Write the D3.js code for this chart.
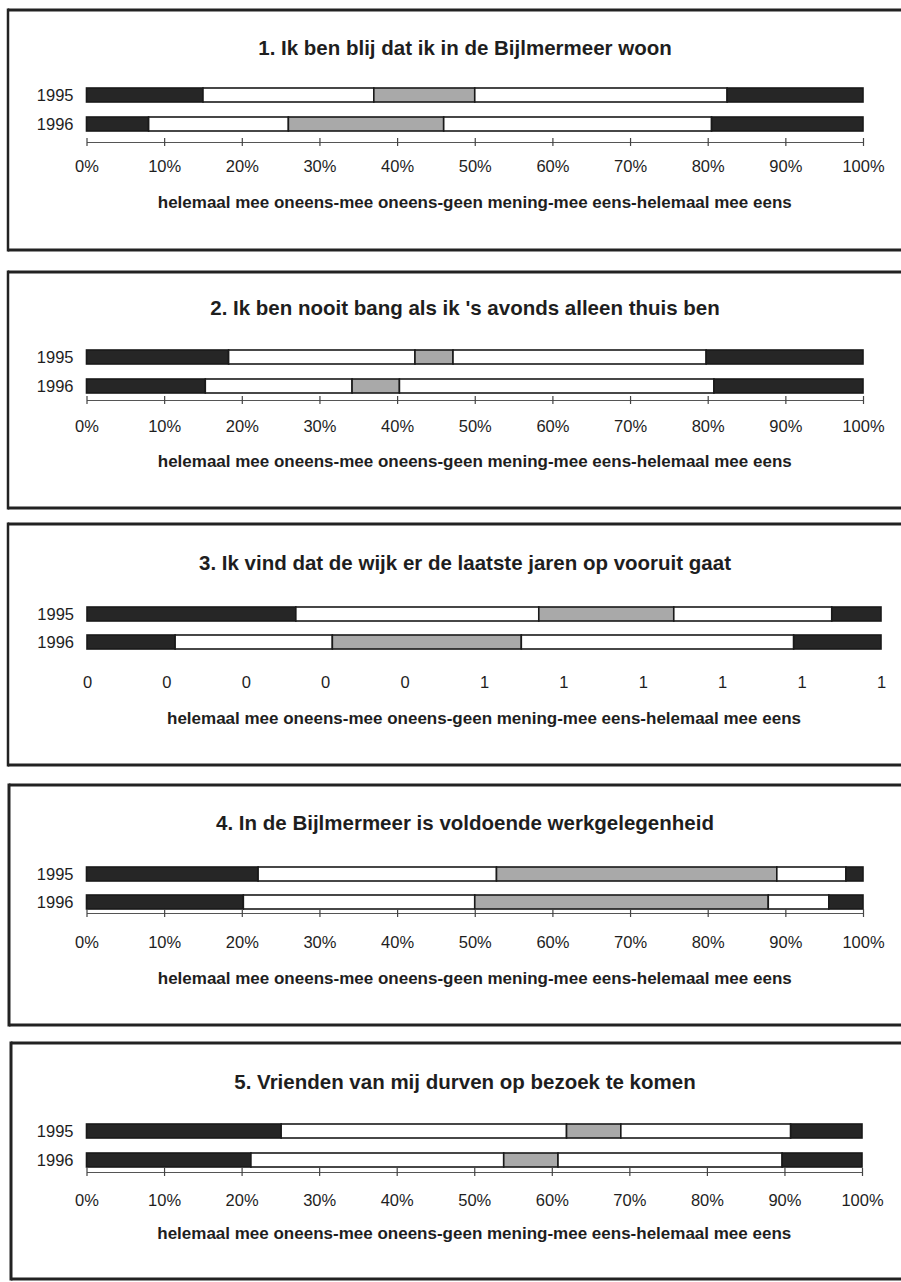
<!DOCTYPE html>
<html>
<head>
<meta charset="utf-8">
<script src="https://cdn.jsdelivr.net/npm/d3@7"></script>
<style>
  html, body { margin: 0; padding: 0; background: #ffffff; }
  svg { display: block; }
  text { font-family: "Liberation Sans", Arial, Helvetica, sans-serif; fill: #1e1e1e; }
</style>
</head>
<body>
<svg id="chart" width="901" height="1282"></svg>
<script>
// ---------- DATA ----------
const categories = ["helemaal mee oneens", "mee oneens", "geen mening", "mee eens", "helemaal mee eens"];
const years = ["1995", "1996"];
const titles = [
  "1. Ik ben blij dat ik in de Bijlmermeer woon",
  "2. Ik ben nooit bang als ik 's avonds alleen thuis ben",
  "3. Ik vind dat de wijk er de laatste jaren op vooruit gaat",
  "4. In de Bijlmermeer is voldoende werkgelegenheid",
  "5. Vrienden van mij durven op bezoek te komen"
];
const axisTitle = "helemaal mee oneens-mee oneens-geen mening-mee eens-helemaal mee eens";

// percentages per category (order as in `categories`)
const q1_1995 = [15.0, 22.0, 13.0, 32.5, 17.5];
const q1_1996 = [8.0, 18.0, 20.0, 34.5, 19.5];
const q2_1995 = [18.3, 24.0, 4.9, 32.6, 20.2];
const q2_1996 = [15.3, 18.9, 6.1, 40.5, 19.2];
const q3_1995 = [26.3, 30.6, 17.0, 19.9, 6.2];
const q3_1996 = [11.1, 19.8, 23.8, 34.3, 11.0];
const q4_1995 = [22.1, 30.7, 36.1, 8.9, 2.2];
const q4_1996 = [20.2, 29.8, 37.8, 7.8, 4.4];
const q5_1995 = [25.1, 36.8, 7.0, 21.9, 9.2];
const q5_1996 = [21.2, 32.6, 7.0, 28.9, 10.3];

const tickValues = [0, 10, 20, 30, 40, 50, 60, 70, 80, 90, 100];
const percentTickLabels = ["0%", "10%", "20%", "30%", "40%", "50%", "60%", "70%", "80%", "90%", "100%"];
const roundedTickLabels = ["0", "0", "0", "0", "0", "1", "1", "1", "1", "1", "1"];

// ---------- LAYOUT / STYLE ----------
const fills = ["#262626", "#ffffff", "#a9a9a9", "#ffffff", "#262626"];

const panels = [
  { data: [q1_1995, q1_1996], labels: percentTickLabels, axis: true,
    top: 10, bottom: 250, left: 8, titleY: 55, barTop: 88, step: 29, axisY: 142, tickY: 172, subY: 208, x0: 86.5, x1: 863 },
  { data: [q2_1995, q2_1996], labels: percentTickLabels, axis: true,
    top: 272, bottom: 508, left: 8, titleY: 315, barTop: 350, step: 29, axisY: 400, tickY: 432, subY: 467, x0: 86.5, x1: 863 },
  { data: [q3_1995, q3_1996], labels: roundedTickLabels, axis: false,
    top: 524, bottom: 765, left: 8, titleY: 570, barTop: 607, step: 28, axisY: 660, tickY: 688, subY: 724, x0: 87, x1: 881 },
  { data: [q4_1995, q4_1996], labels: percentTickLabels, axis: true,
    top: 785, bottom: 1025, left: 9, titleY: 830, barTop: 867, step: 28, axisY: 913, tickY: 948, subY: 984, x0: 86.5, x1: 863 },
  { data: [q5_1995, q5_1996], labels: percentTickLabels, axis: true,
    top: 1043, bottom: 1279, left: 11, titleY: 1089, barTop: 1124, step: 29, axisY: 1172, tickY: 1206, subY: 1239, x0: 86.5, x1: 862 }
];

const barH = 14;
const svg = d3.select("#chart");

panels.forEach((p, i) => {
  const g = svg.append("g");

  // frame
  g.append("line").attr("x1", p.left).attr("x2", 905).attr("y1", p.top).attr("y2", p.top)
    .attr("stroke", "#222").attr("stroke-width", 3);
  g.append("line").attr("x1", p.left).attr("x2", 905).attr("y1", p.bottom).attr("y2", p.bottom)
    .attr("stroke", "#222").attr("stroke-width", 3);
  g.append("line").attr("x1", p.left).attr("x2", p.left).attr("y1", p.top - 1.5).attr("y2", p.bottom + 1.5)
    .attr("stroke", "#222").attr("stroke-width", i >= 3 ? 3 : 2.5);

  // title
  g.append("text").attr("x", 465).attr("y", p.titleY).attr("text-anchor", "middle")
    .attr("font-size", 20.5).attr("font-weight", "bold").text(titles[i]);

  // scales
  const x = d3.scaleLinear().domain([0, 100]).range([p.x0, p.x1]);
  const y = d3.scaleBand().domain(years)
    .range([p.barTop - (p.step - barH) / 2, p.barTop - (p.step - barH) / 2 + 2 * p.step])
    .paddingInner((p.step - barH) / p.step).paddingOuter((p.step - barH) / p.step / 2);

  const rows = years.map((yr, k) => {
    const o = { year: yr };
    categories.forEach((c, j) => { o[c] = p.data[k][j]; });
    return o;
  });
  const stack = d3.stack().keys(categories)(rows);

  stack.forEach((layer, j) => {
    g.selectAll(null).data(layer).join("rect")
      .attr("x", d => x(d[0]))
      .attr("width", d => x(d[1]) - x(d[0]))
      .attr("y", d => y(d.data.year))
      .attr("height", y.bandwidth())
      .attr("fill", fills[j])
      .attr("stroke", "#1a1a1a")
      .attr("stroke-width", 1.6);
  });

  // year labels
  g.selectAll(null).data(years).join("text")
    .attr("x", p.x0 - 13).attr("y", d => y(d) + y.bandwidth() / 2 + 6)
    .attr("text-anchor", "end").attr("font-size", 16.5).text(d => d);

  // axis
  const axis = d3.axisBottom(x).tickValues(tickValues).tickSize(0)
    .tickFormat((d, k) => p.labels[k]);
  const ag = g.append("g").attr("transform", `translate(0,${p.axisY})`).call(axis);
  ag.select(".domain").attr("stroke", p.axis ? "#555" : "none").attr("stroke-width", 1.2);
  ag.selectAll(".tick text").attr("font-size", 16.5).attr("fill", "#1e1e1e")
    .attr("dy", null).attr("y", p.tickY - p.axisY)
    .attr("font-family", "Liberation Sans, Arial, sans-serif");
  if (p.axis) {
    ag.selectAll(".tick").append("line").attr("y1", -4).attr("y2", 4)
      .attr("stroke", "#444").attr("stroke-width", 1.2);
  }

  // category axis title
  g.append("text").attr("x", (p.x0 + p.x1) / 2).attr("y", p.subY).attr("text-anchor", "middle")
    .attr("font-size", 17).attr("font-weight", "bold").text(axisTitle);
});
</script>
</body>
</html>
